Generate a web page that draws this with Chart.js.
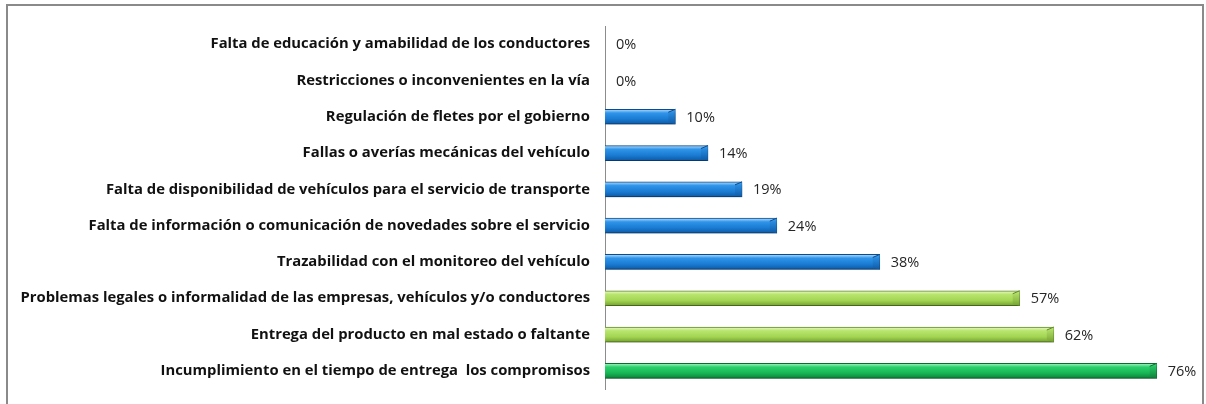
<!DOCTYPE html>
<html>
<head>
<meta charset="utf-8">
<script src="https://cdn.jsdelivr.net/npm/chart.js@4"></script>
<style>
html,body{margin:0;padding:0;background:#fff;}
#wrap{position:absolute;left:0;top:0;width:1206px;height:404px;}
</style>
</head>
<body>
<div id="wrap"><canvas id="c" width="1206" height="404"></canvas></div>
<script>
const categories = [
  "Falta de educación y amabilidad de los conductores",
  "Restricciones o inconvenientes en la vía",
  "Regulación de fletes por el gobierno",
  "Fallas o averías mecánicas del vehículo",
  "Falta de disponibilidad de vehículos para el servicio de transporte",
  "Falta de información o comunicación de novedades sobre el servicio",
  "Trazabilidad con el monitoreo del vehículo",
  "Problemas legales o informalidad de las empresas, vehículos y/o conductores",
  "Entrega del producto en mal estado o faltante",
  "Incumplimiento en el tiempo de entrega  los compromisos"
];
const values = [0, 0, 9.7, 14.2, 18.9, 23.7, 37.9, 57.2, 61.9, 76.1];
const valueLabels = ["0%", "0%", "10%", "14%", "19%", "24%", "38%", "57%", "62%", "76%"];

const palettes = {
  blue:  {top:"#b3ddfc", mid:"#2f95ea", low:"#1a7bd2", bot:"#0e5aa6", edge:"#0c4c8f"},
  lime:  {top:"#ecfac6", mid:"#b8e56e", low:"#a3d552", bot:"#74a132", edge:"#5f8a27"},
  green: {top:"#a6f5c5", mid:"#2ad06c", low:"#17b654", bot:"#0c7f39", edge:"#0a6e31"}
};
function paletteFor(i){
  const v = values[i];
  if (v >= 70) return palettes.green;
  if (v >= 50) return palettes.lime;
  return palettes.blue;
}
const BAR_H = 15;

function barFill(c){
  const p = paletteFor(c.dataIndex);
  const chart = c.chart;
  const ys = chart.scales && chart.scales.y;
  if (!ys || !ys.getPixelForValue) return p.mid;
  const yc = ys.getPixelForValue(c.dataIndex);
  if (!isFinite(yc)) return p.mid;
  const g = chart.ctx.createLinearGradient(0, yc - BAR_H/2, 0, yc + BAR_H/2);
  g.addColorStop(0, p.top);
  g.addColorStop(0.25, p.mid);
  g.addColorStop(0.65, p.low);
  g.addColorStop(1, p.bot);
  return g;
}

const frame = {
  id: 'frame',
  beforeDraw(chart){
    const ctx = chart.ctx;
    ctx.save();
    ctx.strokeStyle = '#8a8a8a';
    ctx.lineWidth = 2;
    ctx.strokeRect(7, 5, 1196, 420);
    ctx.restore();
  }
};

const shadow = {
  id: 'shadow',
  beforeDatasetsDraw(chart){
    const ctx = chart.ctx;
    ctx.save();
    ctx.shadowColor = 'rgba(0,0,0,0.3)';
    ctx.shadowBlur = 4;
    ctx.shadowOffsetY = 3;
    ctx.shadowOffsetX = 1;
  },
  afterDatasetsDraw(chart){
    chart.ctx.restore();
  }
};

const endFacet = {
  id: 'endFacet',
  afterDatasetsDraw(chart){
    const ctx = chart.ctx;
    const meta = chart.getDatasetMeta(0);
    meta.data.forEach((el, i) => {
      const p = paletteFor(i);
      const w = el.x - el.base;
      if (!(w >= 4)) return;
      const top = el.y - el.height/2, bot = el.y + el.height/2;
      const d = Math.min(7, w/2);
      ctx.save();
      ctx.beginPath();
      ctx.moveTo(el.x - d, top + 3);
      ctx.lineTo(el.x, top);
      ctx.lineTo(el.x, bot);
      ctx.lineTo(el.x - d, bot - 2);
      ctx.closePath();
      const g = ctx.createLinearGradient(0, top, 0, bot);
      g.addColorStop(0, p.mid);
      g.addColorStop(1, p.bot);
      ctx.fillStyle = g;
      ctx.globalAlpha = 0.8;
      ctx.fill();
      ctx.globalAlpha = 1;
      ctx.strokeStyle = p.edge;
      ctx.lineWidth = 1;
      ctx.beginPath();
      ctx.moveTo(el.x - d, top + 3);
      ctx.lineTo(el.x, top);
      ctx.stroke();
      ctx.restore();
    });
  }
};

const valueText = {
  id: 'valueText',
  afterDatasetsDraw(chart){
    const ctx = chart.ctx;
    const meta = chart.getDatasetMeta(0);
    ctx.save();
    ctx.font = '14.5px "Open Sans", "Noto Sans", sans-serif';
    ctx.fillStyle = '#262626';
    ctx.textAlign = 'left';
    ctx.textBaseline = 'middle';
    meta.data.forEach((el, i) => {
      ctx.fillText(valueLabels[i], el.x + 11, el.y + 1);
    });
    ctx.restore();
  }
};

new Chart(document.getElementById('c'), {
  type: 'bar',
  data: {
    labels: categories,
    datasets: [{
      data: values,
      backgroundColor: barFill,
      borderColor: (c) => paletteFor(c.dataIndex).edge,
      borderWidth: 1,
      borderSkipped: 'start',
      barThickness: BAR_H
    }]
  },
  options: {
    indexAxis: 'y',
    responsive: false,
    animation: false,
    layout: { padding: { top: 26, bottom: 15, right: 21, left: 0 } },
    plugins: { legend: { display: false }, tooltip: { enabled: false } },
    scales: {
      x: { display: false, min: 0, max: 80 },
      y: {
        grid: { display: false, drawTicks: false },
        border: { display: true, color: '#8c8c8c', width: 1 },
        ticks: {
          padding: 15,
          color: '#111',
          font: { family: '"Open Sans", "Noto Sans", sans-serif', size: 14.8, weight: 'bold' }
        },
        afterFit(s){ s.width = 605; s.paddingTop = 0; s.paddingBottom = 0; }
      }
    }
  },
  plugins: [frame, shadow, endFacet, valueText]
});
</script>
</body>
</html>
